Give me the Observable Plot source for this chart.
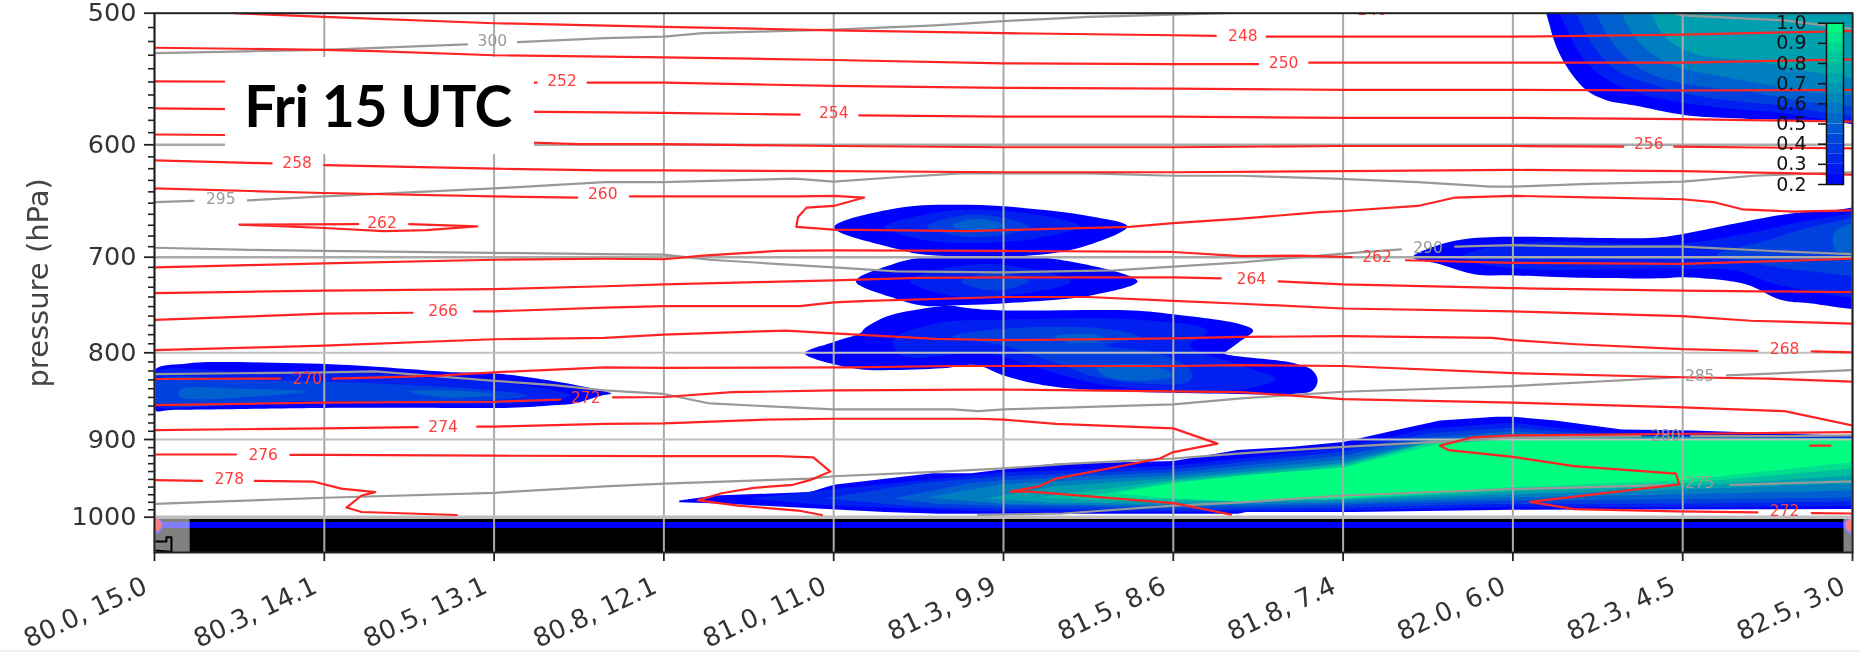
<!DOCTYPE html>
<html><head><meta charset="utf-8">
<script src="https://cdn.jsdelivr.net/npm/d3@7"></script>
<script src="https://cdn.jsdelivr.net/npm/@observablehq/plot@0.6"></script>
<style>
html,body{margin:0;padding:0;background:#fff;overflow:hidden}
#chart{position:relative;width:1859px;height:652px}
#chart svg{position:absolute;filter:blur(0.7px)}
#stamp{position:absolute;left:225px;top:57px;width:309px;height:97px;background:#fff;color:#000;
font:700 57px/97px Lato,sans-serif;text-align:center;letter-spacing:-0.5px;text-indent:-3px}
#strip{position:absolute;left:0;top:650px;width:1859px;height:2px;background:#f1f1f1}
</style></head><body><div id="chart"><div id="stamp">Fri 15 UTC</div><div id="strip"></div></div>
<script>
const xLabels = ["80.0, 15.0","80.3, 14.1","80.5, 13.1","80.8, 12.1","81.0, 11.0","81.3, 9.9","81.5, 8.6","81.8, 7.4","82.0, 6.0","82.3, 4.5","82.5, 3.0"];
const xTicks = [0,1,2,3,4,5,6,7,8,9,10];
const yMajor = [500,600,700,800,900,1000];
const yMinor = [510,520,530,540,550,560,570,580,590,610,620,630,640,650,660,670,680,690,710,720,730,740,750,760,770,780,790,810,820,830,840,850,860,870,880,890,910,920,930,940,950,960,970,980,990];
const cbTicks = [0.2,0.3,0.4,0.5,0.6,0.7,0.8,0.9,1.0];
const cbSteps = [0.2,0.25,0.3,0.35,0.4,0.45,0.5,0.55,0.6,0.65,0.7,0.75,0.8,0.85,0.9,0.95];

// temperature contours (K): [position along section, hPa]; null = gap for the inline label
const redLines = [
 [[.47,500],[1,502.5],[2,507],[3,509.5],[4,512],[5,514],[6,515.5],[6.25,516],null,[6.55,516.5],[7,516.5],[8,516.5],[9,515],[10,512.5]],
 [[0,524.5],[1,526],[1.3,527],[2,530],[3,531.5],[4,533.5],[5,536],[6,536.5],[6.5,536.5],null,[6.8,535.5],[7,535.5],[8,535.5],[9,535.5],[10,533]],
 [[0,549.5],[1,550],[2.25,550.5],null,[2.55,550.5],[3,550.5],[4,553],[5,554.5],[6,555],[7,556],[8,556],[9,556.5],[10,556]],
 [[0,570.5],[2.5,573.5],[3,574],[3.8,575.5],null,[4.15,576],[5,577],[6,577],[7,578],[8,578],[9,579],[10,581]],
 [[0,591.5],[1,592.5],[2.5,599.5],[3,599.5],[4,601],[5,602],[6,602],[7,601],[8,601],[8.65,601.5],null,[8.95,601.5],[10,603]],
 [[0,613],[.69,615.5],null,[1,617],[2,620],[2.65,621.5],[3,621.5],[4,622],[5,623],[6,623],[7,622],[8,621],[9,622],[10,625]],
 [[0,637],[1,641],[2,644],[2.49,645],null,[2.8,644],[3.79,644],[4,643.5],[4.18,645],[4,652.5],[3.84,654],[3.79,662.5],[3.78,671.5],[4,674],[4.8,675.5],[5,674.5],[5.74,671.5],[6,668],[6.4,664],[6.86,658],[7,657],[7.44,652.5],[7.66,645],[8,643.5],[8.53,645],[9,646.5],[9.18,649],[9.35,655.5],[9.65,657.5],[10,656.5]],
 [[.5,669.5],[1.2,669],null,[1.5,669],[1.9,671],[1.6,674.5],[1.35,675.5],[1,672.5],[.7,670.5],[.5,669.5]],
 [[0,710],[1,706],[2,702.5],[2.65,701.5],[3,702],[3.23,698.5],[3.67,694],[4,693.5],[5,694],[6,695],[6.4,699],[6.74,698.5],[7.05,700],null,[7.37,703],[8,705.5],[9,706.5],[10,701.5]],
 [[0,736],[1,733.5],[2,732],[2.65,729],[3,727],[4,723],[4.5,720.5],[5,720],[6,720],[6.28,721],null,[6.62,724],[7,727],[8,731],[9,733.5],[10,735]],
 [[0,764],[1,757.5],[1.52,756.5],null,[1.88,755],[2,755],[2.65,751],[3,749.5],[3.8,749.5],[4,745.5],[4.2,744],[5,740],[5.5,740],[6,744],[6.4,747],[7,752],[8,755],[9,760],[9.4,765],[10,768]],
 [[0,797],[1,792],[2,785],[2.65,783.5],[3,780],[3.72,775.5],[4,778.5],[4.6,784.5],[5,786],[6,784],[6.4,782.5],[7,781.5],[7.88,783.5],[8,786],[8.37,790.5],[9,796],[9.44,798],null,[9.76,798.5],[10,799.5]],
 [[0,829],[.74,828.5],null,[1.05,828.5],[1.45,826.5],[1.7,825],[2,821.5],[2.65,816],[3,816.5],[4.1,816],[4.7,814.5],[5,814.5],[6,814.5],[6.4,813.5],[7,814.5],[8,822.5],[9,827],[9.5,828.5],[10,832]],
 [[0,859],[1,856],[2,855],[2.39,852.5],null,[2.7,850],[3,849.5],[3.4,844],[4,842],[4.85,841],[5,841],[6,843],[6.4,844],[7,852],[8,856],[9,861.5],[9.6,866],[10,883]],
 [[0,888.5],[1,886.5],[1.55,885],null,[1.9,884.5],[2,884.5],[2.65,881],[3,880.5],[3.6,876],[4,875],[4.85,875],[5,876],[5.31,881],[6,886.5],[6.26,905],[6,915.5],[5.92,923.5],[5.31,949],[5.21,959],[5.04,966],[5.16,966],[6,981],[6.34,996.5]],
 [[0,918.5],[.48,918.5],null,[.8,919],[1,919],[2,920],[3,920.5],[3.67,920.5],[3.88,922],[3.98,940],[3.86,951],[3.76,957],[3.53,961],[3.34,968],[3.2,977.5],[3.44,984.5],[3.79,991],[3.93,997]],
 [[0,951],[.28,952],null,[.59,952],[.94,953],[1.1,962],[1.3,966.5],[1.22,971],[1.13,987],[1.22,993],[1.78,997]],
 [[10,891],[9.06,893],[8,895],[7.76,897.5],[7.57,907.5],[7.62,913],[8,921.5],[8.36,933],[8.96,942.5],[8.98,956.5],[8.1,979.5],[8.36,989],[8.97,992],[9.44,993.5],null,[9.76,994.5],[10,995]],
 [[9.75,907.5],[9.87,907.5]]
];
const redLabels = [
 {x:7.17,p:498,t:"246"},{x:6.41,p:516,t:"248"},{x:6.65,p:535.5,t:"250"},{x:2.4,p:549.5,t:"252"},{x:4.0,p:574,t:"254"},
 {x:8.8,p:599.5,t:"256"},{x:.84,p:615.5,t:"258"},{x:2.64,p:642,t:"260"},{x:1.34,p:668,t:"262"},{x:7.2,p:700,t:"262"},
 {x:6.46,p:721.5,t:"264"},{x:1.7,p:755,t:"266"},{x:9.6,p:796,t:"268"},{x:.9,p:828.5,t:"270"},{x:2.54,p:851,t:"272"},
 {x:1.7,p:884.5,t:"274"},{x:.64,p:919,t:"276"},{x:.44,p:950,t:"278"},{x:9.6,p:991.5,t:"272"}
];

// potential temperature contours (K)
const grayLines = [
 [[0,528.5],[1,526],[1.84,522],null,[2.14,520.5],[2.65,517.5],[3,516.5],[3.23,514],[4,511.5],[4.6,508.5],[5,505.5],[5.5,502.5],[6,501],[6.3,500]],
 [[8.95,500],[9,501.5],[9.6,505],[10,511]],
 [[0,649],[.23,648],null,[.55,647.5],[1,644],[2,637],[2.65,631.5],[3,631.5],[3.77,628.5],[4,631],[4.35,627.5],[4.75,624],[5,624],[5.5,624],[6,626],[6.4,626],[6.95,628.5],[7.44,631.5],[7.87,635.5],[8,635.5],[8.45,633],[9,631],[9.42,626],[10,623]],
 [[0,691],[.56,693],[1,694],[2.65,697],[3,697.5],[3.27,702.5],[4,710],[4.37,714],[5,715],[5.65,713],[6.4,705],[7,696.5],[7.34,692.5],null,[7.66,690],[8,688.5],[8.45,690],[9,690],[9.65,695],[10,697]],
 [[0,823.5],[1,821.5],[1.3,820.5],[2,831],[2.35,836],[2.65,842],[3,846],[3.27,857],[4,864],[4.7,864],[4.85,866],[5,864],[6,858],[6.4,851],[7,843.5],[8,837],[8.98,827],null,[9.26,825],[10,819]],
 [[0,982],[1,974],[2,967.5],[2.65,959],[3,955.5],[3.86,949],[4,946],[4.6,940.5],[5,936],[5.4,930],[6,923.5],[6.4,917],[7,909],[7.55,903],[8,897.5],[8.75,896],null,[9.05,896],[9.5,896],[10,895]],
 [[4.85,997],[5.35,995],[6,984.5],[6.4,980],[7,971],[8,962.5],[8.95,957],null,[9.28,957],[10,952.5]]
];
const grayLabels = [
 {x:1.99,p:519.5,t:"300"},{x:.39,p:646.5,t:"295"},{x:7.5,p:691.5,t:"290"},{x:9.1,p:826,t:"285"},{x:8.9,p:896,t:"280"},{x:9.1,p:955,t:"275"}
];

// cloud fraction, filled contours drawn from the outer level inward
const cloudLeft = [
 [.2,[[0,819],[.18,812],[.26,810.5],[1.1,813],[1.78,821.5],[2,822.5],[2.4,833],[2.65,843],[2.69,845.5],[2.63,848],[2.47,857],[2.35,859],[2.1,862],[1.5,862],[1.12,862],[.1,864.5],[0,864.5]]],
 [.3,[[0,823],[.5,821],[1.2,822],[1.7,828.5],[2.2,837],[2.45,848],[2.2,856],[1.2,857],[.4,858],[0,858.5]]],
 [.4,[[0,831.5],[.6,830.5],[1.3,834],[2,842],[2.2,848],[1.9,854],[.9,854],[0,854]]],
 [.5,[[.15,841],[.5,840],[.9,843],[.6,849],[.15,849]]],
 [.5,[[1.5,843],[1.85,843],[2,847],[1.7,850]]]
];
const cloudMidUpper = [
 [.2,[[4,672],[4.37,654.5],[4.79,651.5],[5.13,654.5],[5.5,661.5],[5.73,671],[5.5,688.5],[5.23,697.5],[4.53,697.5],[4.37,692]]],
 [.3,[[4.3,671.5],[4.6,658.5],[4.85,656],[5.2,660.5],[5.45,671],[5.2,682],[4.85,686.5],[4.55,684]]],
 [.4,[[4.55,671],[4.8,660.5],[5.05,665],[5.15,671.5],[4.95,680],[4.7,679]]],
 [.5,[[4.7,670],[4.85,664],[5,670],[4.85,676]]]
];
const cloudMidLower = [
 [.2,[[4.13,724],[4.32,708.5],[4.53,700],[5.23,700],[5.79,724],[5.53,738],[5.11,745.5],[4.68,749],[4.53,749],[4.37,742]]],
 [.3,[[4.45,724],[4.7,709.5],[5,707.5],[5.4,724],[5.1,737],[4.7,739]]],
 [.4,[[4.75,724],[4.95,715],[5.15,724],[4.95,733.5]]]
];
const cloudLobes = [
 [.2,[[3.83,800.5],[4,788],[4.16,778],[4.18,773.5],[4.32,760],[4.53,752],[4.68,749],[4.81,752],[5,754],[5.76,754],[6,758],[6.39,768.5],[6.47,775.5],[6.4,786.5],[6.32,797.5],[6.3,800.5],[6.7,811],[6.82,819.5],[6.85,831],[6.82,842],[6.7,846],[6.38,846],[5.31,838],[5,825],[4.84,813.5],[4.64,817],[4.18,818.5],[4.02,813.5]]],
 [.3,[[4.35,786.5],[4.6,768],[5,764],[5.8,764],[6.2,776],[6.1,792],[6.4,814],[6.6,829],[6.4,840.5],[5.6,836],[5.2,816.5],[4.9,800.5],[4.4,803]]],
 [.4,[[4.7,782],[5,773.5],[5.6,773.5],[5.8,782.5],[5.6,792],[5.9,800],[6.1,819],[6.1,831],[5.6,829],[5.3,810.5],[5,792]]],
 [.5,[[5.3,782],[5.55,780],[5.6,785],[5.4,789]]],
 [.5,[[5.55,817],[5.85,813.5],[6,825],[5.8,831],[5.6,826]]]
];
const cloudTopRight = [
 [.2,[[8.21,490],[8.22,510],[8.3,535],[8.43,556],[8.55,564],[8.71,568],[9,575.5],[9.23,578],[9.86,580.5],[10.2,581.5],[10.2,490]]],
 [.3,[[8.28,490],[8.33,514],[8.47,540],[8.7,557],[9,566],[9.5,573],[10.2,575],[10.2,490]]],
 [.4,[[8.38,490],[8.43,514],[8.6,540],[8.85,553],[9.1,561],[9.5,567],[10.2,570],[10.2,490]]],
 [.5,[[8.5,490],[8.55,514],[8.75,540],[9,551],[9.3,556],[10.2,562],[10.2,490]]],
 [.6,[[8.65,490],[8.7,514],[8.9,535],[9.2,545],[10.2,553],[10.2,490]]],
 [.7,[[8.82,490],[8.88,514],[9.05,528],[9.4,534],[10.2,542],[10.2,490]]]
];
const cloudRight = [
 [.2,[[7.41,700],[7.5,692],[7.73,682.5],[8.83,681.5],[9,678],[9.37,666.5],[9.65,659],[9.88,656.5],[10.2,656],[10.2,746],[9.72,746],[9.57,742.5],[9.37,727],[9,720],[8.88,721],[8.39,720.5],[8.01,718],[7.78,717],[7.55,706]]],
 [.3,[[7.7,700],[8,687],[9,687],[9.4,677],[9.8,664],[10.2,661.5],[10.2,734.5],[9.6,729],[9.3,713],[9,711],[8,711]]],
 [.4,[[9.2,698],[9.5,684],[9.8,670],[10.2,664],[10.2,713],[9.7,713],[9.4,705]]],
 [.5,[[9.9,675],[10.2,667],[10.2,693],[9.9,693]]]
];
const cloudBottom = [
 [.2,[[3.09,977.5],[3.3,971],[3.86,966.5],[4,957],[4.58,942],[4.81,942],[5,937],[5.3,930],[6,926.5],[6.38,913],[6.7,909],[7,903],[7.3,889],[7.57,877],[7.9,872.5],[8,872.5],[8.25,877],[8.64,888],[9.06,889],[10,895.5],[10,989],[8,990],[7.06,993],[6.43,993],[6.38,995.5],[4.62,995.5],[4.3,993],[3.37,982],[3.09,980]]],
 [.3,[[3.5,975],[4,962.5],[5,941],[6,932.5],[7,910],[7.5,886.5],[8,879.5],[8.5,891.5],[9,893.5],[10,896],[10,984.5],[9,987],[8,986],[7,991],[6,992.5],[5,992.5],[4,984.5]]],
 [.4,[[3.95,975],[4.5,955],[5,946],[6,937],[7,915],[7.5,892.5],[8,885.5],[8.5,894.5],[9,896],[10,897.5],[10,979],[9,982],[8,982],[7,987],[6,990],[5,988.5],[4.5,986]]],
 [.5,[[4.35,975],[4.8,955],[5,951],[6,941],[7,920],[7.5,897.5],[8,890],[8.5,897.5],[9,899],[10,899],[10,973.5],[9,976],[8,977.5],[7,983],[6,987],[5,984.5],[4.6,982]]],
 [.6,[[4.55,973.5],[5,956],[6,945],[7,925],[7.5,901],[8,893.5],[10,899],[10,964.5],[9,969.5],[8,973.5],[7,980.5],[6,984.5],[5,982]]],
 [.7,[[4.9,975],[5.3,959],[6,948.5],[7,929],[7.5,902.5],[8,896],[10,899],[10,955],[9,963],[8,969.5],[7,977.5],[6,982],[5.3,980.5]]],
 [.8,[[5.2,973.5],[6,951],[7,931],[7.5,904],[8,899],[10,899],[10,945],[9,959],[8,965.5],[7,976],[6,979],[5.6,977.5]]],
 [.9,[[5.45,973.5],[6,953.5],[7,934],[7.5,905],[8,900],[10,899],[10,936],[9,955],[8,963],[7,975],[6,976]]],
 [1.0,[[5.65,968],[6,955],[6.4,945],[7,935],[7.57,905],[8,901],[10,899],[10,928],[9,951],[8,960],[7,974],[6.38,979],[6,975]]]
];
const terrainTop = 1002, domainBottom = 1050, surfaceLine = 1011;
const stationX = [0,10];
const stationGlyph = [[0,1034],[.07,1034],[.07,1028],[.1,1028],[.1,1049],[0,1047]];

const toPolys = groups => groups.flatMap(([level,pts],i)=>pts.map(([x,p])=>({id:i,level,x,p})));
const cloudPolys = toPolys([...cloudLeft,...cloudMidUpper,...cloudMidLower,...cloudLobes,...cloudTopRight,...cloudRight]);
const groundCloudPolys = toPolys(cloudBottom);
const toRows = lines => lines.flatMap((l,i)=>l.map(pt=>pt?{id:i,x:pt[0],p:pt[1]}:{id:i,x:NaN,p:NaN}));
const winter = {type:"linear",domain:[0.2,1],range:["#0000ff","#00ff80"]};
const FONT = "DejaVu Sans";
const labelText = (rows,fill) => Plot.text(rows,{x:"x",y:"p",text:"t",fill,fontSize:15.5,fontFamily:FONT,clip:true});

const chart = Plot.plot({
  width:1859,height:652,
  marginLeft:154,marginRight:7,marginTop:12.7,marginBottom:100,
  style:{background:"transparent",fontFamily:FONT},
  x:{domain:[0,10]},
  y:{type:"log",domain:[500,600,700,800,900,1000,1050],range:[12.7,144.3,256.7,352.3,439,516.7,552]},
  color:winter,
  marks:[
    Plot.line(cloudPolys,{x:"x",y:"p",z:"id",fill:"level",stroke:"none",clip:true,curve:"catmull-rom-closed"}),
    Plot.line(groundCloudPolys,{x:"x",y:"p",z:"id",fill:"level",stroke:"none",clip:true}),
    Plot.rect([0],{x1:0,x2:10,y1:terrainTop,y2:domainBottom,fill:"black"}),
    Plot.ruleY([surfaceLine],{stroke:"#0000ff",strokeWidth:6}),
    Plot.rect([0],{x1:0,x2:.21,y1:terrainTop,y2:domainBottom,fill:"white",fillOpacity:.5}),
    Plot.rect([0],{x1:9.95,x2:10,y1:terrainTop,y2:domainBottom,fill:"white",fillOpacity:.5}),
    Plot.line(stationGlyph,{x:d=>d[0],y:d=>d[1],stroke:"black",strokeWidth:2}),
    Plot.dot(stationX,{x:d=>d,y:()=>surfaceLine,r:8,fill:"#ff8080",stroke:"#8080ff",strokeWidth:2,clip:true}),
    Plot.ruleX(xTicks,{stroke:"#aaaaaa",strokeWidth:2}),
    Plot.ruleY([600,700],{stroke:"#aaaaaa",strokeWidth:2.4}),
    Plot.ruleY([800,900],{stroke:"#c0c0c0",strokeWidth:2}),
    Plot.ruleY([1000],{stroke:"#bdbdbd",strokeWidth:3.5}),
    Plot.line(toRows(grayLines),{x:"x",y:"p",z:"id",stroke:"#999999",strokeWidth:2.2,clip:true}),
    Plot.line(toRows(redLines),{x:"x",y:"p",z:"id",stroke:"#ff2424",strokeWidth:2.2,clip:true}),
    labelText(grayLabels,"#9a9a9a"),
    labelText(redLabels,"#ff3c3c"),
    Plot.frame({stroke:"#222",strokeWidth:2}),
    Plot.axisY({ticks:yMinor,tickSize:6,label:null,tickFormat:()=>"",strokeWidth:1.6,stroke:"#222"}),
    Plot.axisY({ticks:yMajor,tickSize:10,tickPadding:8,tickFormat:d=>String(d),label:null,fontSize:25.5,fontFamily:FONT,color:"#333",strokeWidth:1.8,stroke:"#222"}),
    Plot.axisX({ticks:xTicks,tickSize:9,tickFormat:()=>"",label:null,strokeWidth:1.8,stroke:"#222"}),
    Plot.axisX({ticks:xTicks,tickSize:0,tickPadding:32,dx:-9,tickRotate:-25,tickFormat:i=>xLabels[i],label:null,fontSize:26,fontFamily:FONT,color:"#333"}),
    Plot.text(["pressure (hPa)"],{frameAnchor:"left",textAnchor:"middle",dx:-116,rotate:-90,fontSize:29,fontFamily:FONT,fill:"#444",text:d=>d})
  ]
});
chart.style.left="0";chart.style.top="0";
document.getElementById("chart").prepend(chart);

const bar = Plot.plot({
  width:124,height:200,
  marginLeft:91,marginRight:16,marginTop:22.7,marginBottom:16,
  style:{background:"transparent",fontFamily:FONT,overflow:"visible"},
  x:{axis:null,domain:[0,1]},
  y:{domain:[0.2,1]},
  color:winter,
  marks:[
    Plot.rect(cbSteps,{x1:0,x2:1,y1:d=>d,y2:d=>d+0.05,fill:d=>d+0.025}),
    Plot.frame({stroke:"#111",strokeWidth:1.5}),
    Plot.axisY({ticks:cbTicks,tickSize:8,tickPadding:12,tickFormat:".1f",label:null,fontSize:19,fontFamily:FONT,color:"#111",strokeWidth:1.5,stroke:"#111"})
  ]
});
bar.style.left="1735px";bar.style.top="0";
document.getElementById("chart").appendChild(bar);
</script></body></html>
